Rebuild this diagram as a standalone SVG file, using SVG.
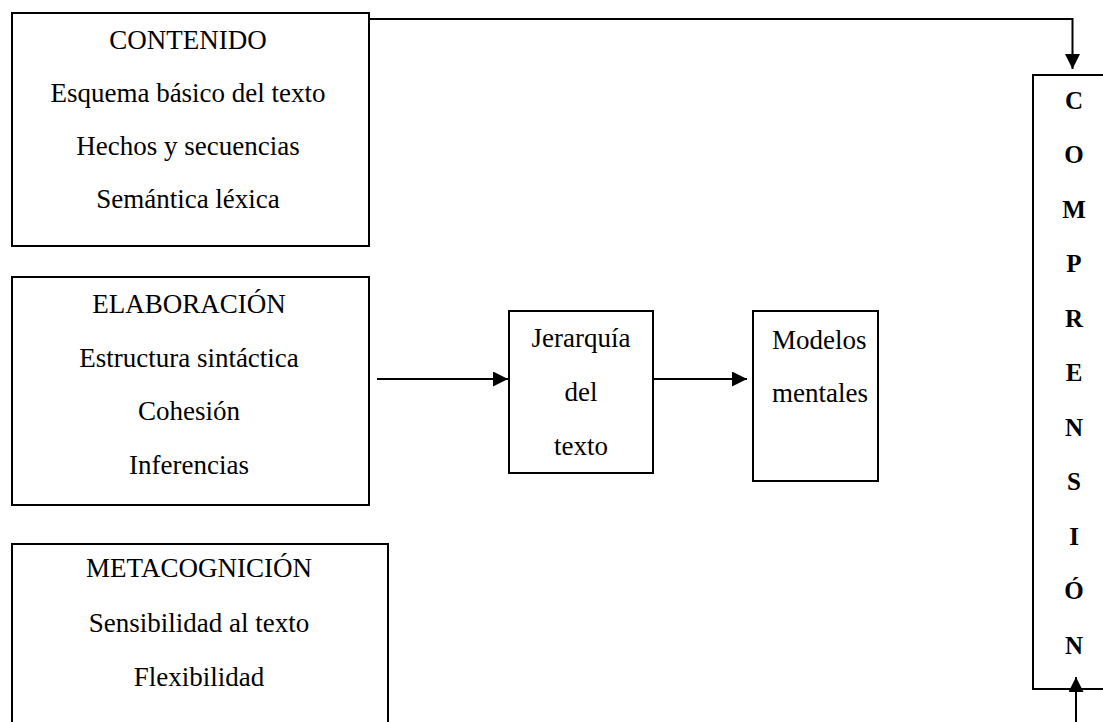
<svg xmlns="http://www.w3.org/2000/svg" width="1103" height="722" viewBox="0 0 1103 722">
<defs>
<style>
.box{fill:#fff;stroke:#000;stroke-width:2}
.t{font-family:"Liberation Serif","Times New Roman",serif;font-size:27px;fill:#000;text-anchor:middle}
.tl{font-family:"Liberation Serif","Times New Roman",serif;font-size:27px;fill:#000}
.b{font-family:"Liberation Serif","Times New Roman",serif;font-size:25px;font-weight:bold;fill:#000;text-anchor:middle}
.c{fill:none;stroke:#000;stroke-width:2}
</style>
<marker id="ah" markerUnits="userSpaceOnUse" markerWidth="16" markerHeight="16" refX="15" refY="7.5" orient="auto">
<path d="M0,0 L15,7.5 L0,15 Z" fill="#000"/>
</marker>
</defs>
<rect width="1103" height="722" fill="#fff"/>
<g id="contenido">
<rect class="box" x="12" y="13" width="357" height="233"/>
<text class="t" x="188" y="49">CONTENIDO</text>
<text class="t" x="188" y="102">Esquema básico del texto</text>
<text class="t" x="188" y="155">Hechos y secuencias</text>
<text class="t" x="188" y="208">Semántica léxica</text>
</g>
<g id="elaboracion">
<rect class="box" x="12" y="277" width="357" height="228"/>
<text class="t" x="189" y="313">ELABORACIÓN</text>
<text class="t" x="189" y="367">Estructura sintáctica</text>
<text class="t" x="189" y="420">Cohesión</text>
<text class="t" x="189" y="474">Inferencias</text>
</g>
<g id="metacognicion">
<path class="c" d="M12,730 V544 H388 V730"/>
<text class="t" x="199" y="577">METACOGNICIÓN</text>
<text class="t" x="199" y="632">Sensibilidad al texto</text>
<text class="t" x="199" y="686">Flexibilidad</text>
</g>
<g id="jerarquia">
<rect class="box" x="509" y="311" width="144" height="162"/>
<text class="t" x="581" y="347">Jerarquía</text>
<text class="t" x="581" y="401">del</text>
<text class="t" x="581" y="455">texto</text>
</g>
<g id="modelos">
<rect class="box" x="753" y="311" width="125" height="170"/>
<text class="tl" x="772" y="349">Modelos</text>
<text class="tl" x="772" y="402">mentales</text>
</g>
<g id="comprension">
<path class="c" d="M1110,75 H1033 V689 H1110"/>
<text class="b" x="1074" y="109">C</text>
<text class="b" x="1074" y="163">O</text>
<text class="b" x="1074" y="218">M</text>
<text class="b" x="1074" y="272">P</text>
<text class="b" x="1074" y="327">R</text>
<text class="b" x="1074" y="381">E</text>
<text class="b" x="1074" y="436">N</text>
<text class="b" x="1074" y="490">S</text>
<text class="b" x="1074" y="545">I</text>
<text class="b" x="1074" y="599">Ó</text>
<text class="b" x="1074" y="654">N</text>
</g>
<g id="connectors">
<path class="c" d="M369,19 H1072.5 V69" marker-end="url(#ah)"/>
<path class="c" d="M1076,722 V677" marker-end="url(#ah)"/>
<path class="c" d="M377,379 H508" marker-end="url(#ah)"/>
<path class="c" d="M653,379 H747" marker-end="url(#ah)"/>
</g>
</svg>
